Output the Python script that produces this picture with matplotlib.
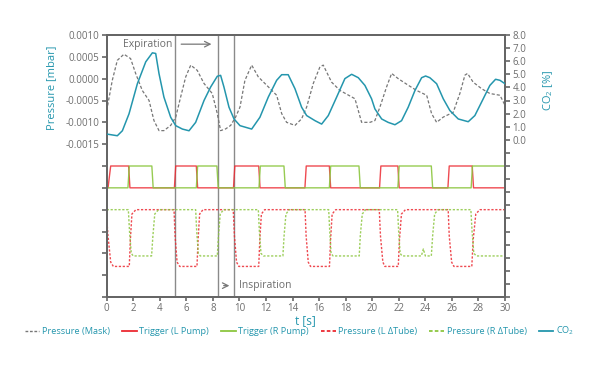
import matplotlib
matplotlib.use("Agg")
import matplotlib.pyplot as plt
from matplotlib.lines import Line2D

plt.rcParams['font.family'] = ['Open Sans', 'DejaVu Sans']
plt.rcParams['mathtext.default'] = 'regular'

TEAL = '#2496ad'
GRAY_TXT = '#6d6d6d'
SPINE = '#666666'
RED = '#ec2a32'
GREEN = '#8cc63f'
MASK = '#777777'

# ---- data ----
mask_t = [0, 0.42, 0.8, 1.3, 1.8, 2.18, 2.68, 3.19, 3.56, 3.94, 4.31, 4.82, 5.2, 5.57, 5.95,
          6.33, 6.82, 7.33, 7.95, 8.33, 8.58, 8.96, 9.34, 9.71, 10.04, 10.41, 10.92, 11.42,
          12.05, 12.8, 13.18, 13.55, 14.18, 14.68, 15.06, 15.56, 16.06, 16.31, 16.94, 17.57,
          18.7, 19.2, 19.83, 20.2, 20.58, 21.08, 21.46, 21.96, 22.71, 23.34, 24.1, 24.47,
          24.85, 25.35, 26.1, 26.6, 26.98, 27.18, 27.6, 28.24, 28.86, 29.62, 30]
mask_p = [-0.00073, -0.00004, 0.00042, 0.00056, 0.00046, 0.00012, -0.00027, -0.0005, -0.00096,
          -0.00119, -0.00119, -0.00107, -0.00088, -0.00042, 0.00004, 0.00031, 0.00019, -0.00011,
          -0.00034, -0.0008, -0.00119, -0.00115, -0.00107, -0.00088, -0.00065, -0.00004, 0.00031,
          0.00004, -0.00015, -0.00038, -0.0008, -0.001, -0.00107, -0.00092, -0.00065, -0.00011,
          0.00027, 0.00031, -0.00008, -0.00027, -0.00046, -0.001, -0.001, -0.00096, -0.00065,
          -0.00019, 0.00012, 0.0, -0.00015, -0.00027, -0.00038, -0.0008, -0.001, -0.00088,
          -0.00077, -0.00034, 0.00008, 0.00012, -0.00008, -0.00023, -0.00034, -0.00038, -0.00061]

co2_t = [0, 0.8, 1.18, 1.68, 2.31, 2.94, 3.44, 3.69, 3.94, 4.31, 4.82, 5.2, 5.7, 6.2, 6.7,
         7.33, 7.83, 8.33, 8.58, 8.83, 9.21, 9.59, 10.04, 10.92, 11.54, 12.17, 12.8, 13.18,
         13.67, 14.18, 14.68, 15.06, 15.69, 16.19, 16.69, 17.32, 17.94, 18.45, 18.95, 19.45,
         19.95, 20.2, 20.71, 21.2, 21.71, 22.21, 22.71, 23.22, 23.72, 24.02, 24.34, 24.85,
         25.35, 25.85, 26.48, 27.23, 27.73, 28.36, 28.86, 29.29, 29.62, 30]
co2_v = [0.44, 0.31, 0.69, 1.98, 4.28, 5.95, 6.64, 6.59, 5.05, 3.26, 1.72, 1.08, 0.82, 0.69,
         1.33, 3.0, 4.03, 4.85, 4.92, 4.03, 2.49, 1.59, 1.08, 0.82, 1.72, 3.26, 4.54, 4.97,
         4.97, 3.9, 2.49, 1.85, 1.46, 1.2, 1.85, 3.26, 4.67, 5.0, 4.74, 4.15, 3.13, 2.36,
         1.59, 1.33, 1.15, 1.46, 2.49, 3.77, 4.74, 4.87, 4.74, 4.28, 3.13, 2.23, 1.59, 1.38,
         1.85, 3.13, 4.15, 4.62, 4.54, 4.28]

trigL_t = [0, 0.1, 0.3, 1.65, 1.75, 5.1, 5.2, 6.75, 6.85, 9.55, 9.65, 11.45, 11.55, 14.93, 15.03,
           16.77, 16.87, 20.55, 20.65, 21.93, 22.03, 25.7, 25.8, 27.53, 27.63, 30]
trigL_v = [-0.0025, -0.0025, -0.002, -0.002, -0.0025, -0.0025, -0.002, -0.002, -0.0025, -0.0025,
           -0.002, -0.002, -0.0025, -0.0025, -0.002, -0.002, -0.0025, -0.0025, -0.002, -0.002,
           -0.0025, -0.0025, -0.002, -0.002, -0.0025, -0.0025]

trigR_t = [0, 1.6, 1.7, 3.4, 3.5, 6.75, 6.85, 8.3, 8.4, 11.47, 11.57, 13.35, 13.45, 16.77, 16.87,
           19.0, 19.1, 21.93, 22.03, 24.45, 24.55, 27.45, 27.55, 30]
trigR_v = [-0.0025, -0.0025, -0.002, -0.002, -0.0025, -0.0025, -0.002, -0.002, -0.0025, -0.0025,
           -0.002, -0.002, -0.0025, -0.0025, -0.002, -0.002, -0.0025, -0.0025, -0.002, -0.002,
           -0.0025, -0.0025, -0.002, -0.002]

tubeL_t = [0, 0.1, 0.3, 0.5, 1.7, 1.78, 1.9, 2.2,
           5.07, 5.15, 5.3, 5.5, 6.8, 6.88, 7.0, 7.25,
           9.53, 9.62, 9.78, 9.95, 11.45, 11.53, 11.65, 11.9,
           14.94, 15.02, 15.18, 15.35, 16.78, 16.86, 16.98, 17.25,
           20.53, 20.62, 20.8, 20.95, 21.96, 22.05, 22.2, 22.5,
           25.72, 25.8, 25.98, 26.15, 27.5, 27.6, 27.8, 28.1, 30]
tubeL_p = [-0.0032, -0.0036, -0.0042, -0.0043, -0.0043, -0.0037, -0.0031, -0.0030,
           -0.0030, -0.0036, -0.0042, -0.0043, -0.0043, -0.0037, -0.0031, -0.0030,
           -0.0030, -0.0036, -0.0042, -0.0043, -0.0043, -0.0037, -0.0031, -0.0030,
           -0.0030, -0.0036, -0.0042, -0.0043, -0.0043, -0.0037, -0.0031, -0.0030,
           -0.0030, -0.0036, -0.0042, -0.0043, -0.0043, -0.0037, -0.0031, -0.0030,
           -0.0030, -0.0036, -0.0042, -0.0043, -0.0043, -0.0037, -0.0031, -0.0030, -0.0030]

tubeR_t = [0, 1.63, 1.72, 1.85, 2.0, 3.38, 3.48, 3.62, 3.9,
           6.7, 6.78, 6.9, 7.05, 8.33, 8.42, 8.55, 8.8,
           11.42, 11.5, 11.62, 11.8, 13.27, 13.36, 13.5, 13.75,
           16.72, 16.8, 16.9, 17.05, 19.02, 19.1, 19.25, 19.5,
           21.91, 21.99, 22.1, 22.25, 23.7, 23.85, 24.0, 24.45, 24.55, 24.7, 24.95,
           27.43, 27.52, 27.65, 27.85, 30]
tubeR_p = [-0.0030, -0.0030, -0.0035, -0.0040, -0.00406, -0.00406, -0.0036, -0.0031, -0.0030,
           -0.0030, -0.0035, -0.0040, -0.00406, -0.00406, -0.0036, -0.0031, -0.0030,
           -0.0030, -0.0035, -0.0040, -0.00406, -0.00406, -0.0036, -0.0031, -0.0030,
           -0.0030, -0.0035, -0.0040, -0.00406, -0.00406, -0.0036, -0.0031, -0.0030,
           -0.0030, -0.0035, -0.0040, -0.00406, -0.00406, -0.0039, -0.00406, -0.00406, -0.0036, -0.0031, -0.0030,
           -0.0030, -0.0035, -0.0040, -0.00406, -0.00406]

phase_lines = [5.14, 8.4, 9.59]

left_ticks = [0.001 - 0.0005 * i for i in range(13)]
left_labels = ['0.0010', '0.0005', '0.0000', '-0.0005', '-0.0010', '-0.0015'] + [''] * 7
right_ticks = list(range(-12, 9))
right_labels = [''] * 12 + ['%.1f' % v for v in range(0, 9)]
x_ticks = list(range(0, 31, 2))

# ---- figure ----
fig = plt.figure(figsize=(5.99, 3.69), dpi=100)
ax = fig.add_axes([106.7 / 599, 1 - 297 / 369, (505 - 106.7) / 599, (297 - 35) / 369])
ax2 = ax.twinx()

ax.set_xlim(0, 30)
ax.set_ylim(-0.005, 0.001)
ax2.set_ylim(-12, 8)

for x in phase_lines:
    ax.axvline(x, color='#8a8a8a', lw=1.0, zorder=1)

ax.plot(mask_t, mask_p, color=MASK, lw=0.9, ls=(0, (2.5, 1.6)), zorder=3)
ax.plot(trigL_t, trigL_v, color=RED, lw=1.0, alpha=0.85, zorder=3)
ax.plot(trigR_t, trigR_v, color=GREEN, lw=1.0, alpha=0.9, zorder=3)
ax.plot(tubeL_t, tubeL_p, color=RED, lw=1.0, ls=(0, (1.6, 1.2)), alpha=0.85, zorder=3)
ax.plot(tubeR_t, tubeR_p, color=GREEN, lw=1.0, ls=(0, (1.6, 1.2)), alpha=0.85, zorder=3)
ax2.plot(co2_t, co2_v, color=TEAL, lw=1.1, zorder=4)

# annotations
ax.text(1.22, 0.00079, 'Expiration', color=GRAY_TXT, fontsize=7.5, va='center', ha='left')
ax.annotate('', xy=(8.1, 0.00079), xytext=(5.4, 0.00079),
            arrowprops=dict(arrowstyle='->', color='#777777', lw=0.9))
ax.text(9.95, -0.00474, 'Inspiration', color=GRAY_TXT, fontsize=7.5, va='center', ha='left')
ax.annotate('', xy=(9.45, -0.00474), xytext=(8.6, -0.00474),
            arrowprops=dict(arrowstyle='->', color='#777777', lw=0.9))

# axes styling
for a in (ax, ax2):
    for s in a.spines.values():
        s.set_color(SPINE)
        s.set_linewidth(1.4)

ax.set_xticks(x_ticks)
ax.set_yticks(left_ticks)
ax.set_yticklabels(left_labels)
ax2.set_yticks(right_ticks)
ax2.set_yticklabels(right_labels)

ax.tick_params(axis='y', colors=SPINE, labelcolor=GRAY_TXT, labelsize=7, length=3.5, width=1.2, pad=2)
ax.tick_params(axis='x', colors=SPINE, labelcolor=GRAY_TXT, labelsize=7, length=3, width=1.2, pad=1)
ax2.tick_params(axis='y', colors=SPINE, labelcolor=GRAY_TXT, labelsize=7, length=3.5, width=1.2, pad=2)

ax.set_xlabel('t [s]', color=TEAL, fontsize=8.5, labelpad=0)
ax.xaxis.set_label_coords(0.5, -0.065)
ax.set_ylabel('Pressure [mbar]', color=TEAL, fontsize=8)
ax.yaxis.set_label_coords(-0.125, 0.8)
ax2.set_ylabel('CO$_2$ [%]', color=TEAL, fontsize=8)
ax2.yaxis.set_label_coords(1.09, 0.79)

handles = [
    Line2D([], [], color=MASK, lw=1.0, ls=(0, (2, 1.2))),
    Line2D([], [], color=RED, lw=1.3),
    Line2D([], [], color=GREEN, lw=1.3),
    Line2D([], [], color=RED, lw=1.3, ls=(0, (2, 1.2))),
    Line2D([], [], color=GREEN, lw=1.3, ls=(0, (2, 1.2))),
    Line2D([], [], color=TEAL, lw=1.3),
]
labels = ['Pressure (Mask)', 'Trigger (L Pump)', 'Trigger (R Pump)',
          'Pressure (L \u0394Tube)', 'Pressure (R \u0394Tube)', 'CO$_2$']
leg = fig.legend(handles, labels, loc='center', bbox_to_anchor=(0.5, 1 - 331 / 369), ncol=6,
                 frameon=False, fontsize=6.6, handlelength=1.6, handletextpad=0.3,
                 columnspacing=1.3, labelcolor=TEAL)

fig.savefig('out.png', dpi=100)
